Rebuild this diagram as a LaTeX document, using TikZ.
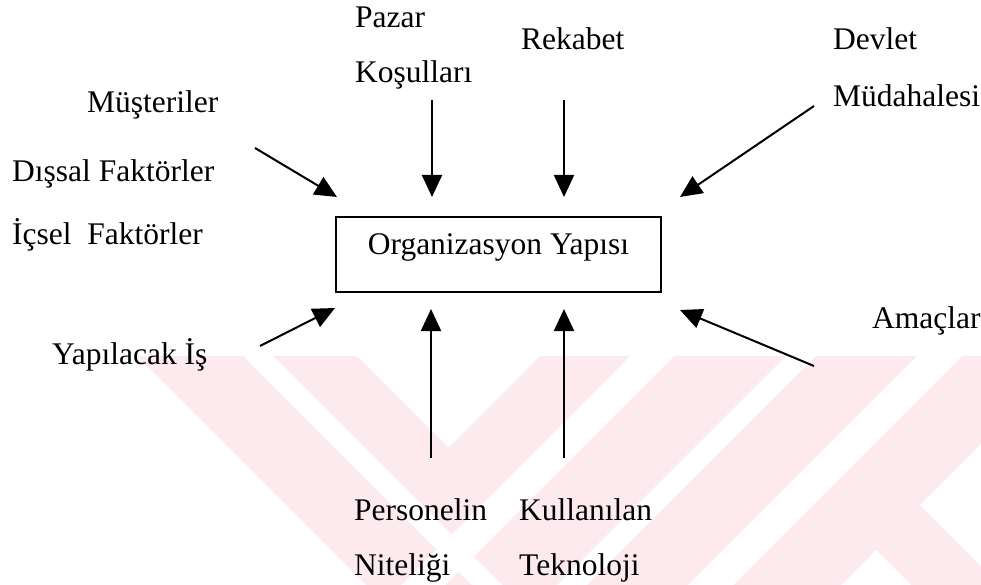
\documentclass[tikz,border=0pt]{standalone}
\usepackage{fontspec}
\setmainfont{Liberation Serif}
\usetikzlibrary{arrows.meta}
\definecolor{wmpink}{RGB}{252,234,238}
\begin{document}
\begin{tikzpicture}[x=1bp,y=-1bp,
  lbl/.style={anchor=base west, inner sep=0pt, font=\fontsize{31.5bp}{38bp}\selectfont},
  orgbox/.style={draw, line width=2bp, minimum width=325bp, minimum height=75bp,
    inner sep=0pt, text height=21bp, text depth=20bp,
    font=\fontsize{31.5bp}{38bp}\selectfont},
  arr/.style={line width=2bp, -{Triangle[length=22bp,width=20bp]}},
  wm/.style={fill=wmpink, draw=none},
  wmgap/.style={fill=white, draw=none}]
\useasboundingbox (0,0) rectangle (981,585);

% faint background emblem
\fill[wm] (137,356) -- (981,356) -- (981,585) -- (366,585) -- cycle;
\fill[wmgap] (243,356) -- (273,356) -- (502,585) -- (472,585) -- cycle;
\fill[wmgap] (357,356) -- (448.5,447.5) -- (540,356) -- cycle;
\fill[wmgap] (630,356) -- (674,356) -- (445,585) -- (401,585) -- cycle;
\fill[wmgap] (786,356) -- (816,356) -- (587,585) -- (557,585) -- cycle;
\fill[wmgap] (917,356) -- (962,356) -- (733,585) -- (688,585) -- cycle;
\fill[wmgap] (920,505) -- (981,444) -- (981,566) -- cycle;
\fill[wmgap] (876,550) -- (911,585) -- (841,585) -- cycle;

% central box
\node[orgbox] (org) at (498.5,254.5) {Organizasyon Yapısı};

% factor labels
\node[lbl] (pazar) at (355,28) {Pazar};
\node[lbl] (kosul) at (355,83) {Koşulları};
\node[lbl] (must) at (87,113) {Müşteriler};
\node[lbl] (dissal) at (12,182) {Dışsal Faktörler};
\node[lbl] (icsel) at (12,245) {İçsel\ \ Faktörler};
\node[lbl] (rek) at (521,50) {Rekabet};
\node[lbl] (devlet) at (833,50) {Devlet};
\node[lbl] (mudah) at (833,107) {Müdahalesi};
\node[lbl] (yap) at (52,364) {Yapılacak İş};
\node[lbl] (amac) at (872,328) {Amaçlar};
\node[lbl] (pers) at (354,520) {Personelin};
\node[lbl] (nit) at (354,575) {Niteliği};
\node[lbl] (kull) at (519,520) {Kullanılan};
\node[lbl] (tek) at (519,575) {Teknoloji};

% arrow end points
\coordinate (aM1) at (255,148);  \coordinate (aM2) at (337,197);
\coordinate (aP1) at (432,100);  \coordinate (aP2) at (432,197);
\coordinate (aR1) at (564,100);  \coordinate (aR2) at (564,197);
\coordinate (aD1) at (814,106);  \coordinate (aD2) at (680,197);
\coordinate (aY1) at (260,346);  \coordinate (aY2) at (335,308);
\coordinate (aN1) at (431,458);  \coordinate (aN2) at (431,309);
\coordinate (aK1) at (564,458);  \coordinate (aK2) at (564,309);
\coordinate (aA1) at (814,366);  \coordinate (aA2) at (680,310);

\draw[arr] (aM1) -- (aM2);
\draw[arr] (aP1) -- (aP2);
\draw[arr] (aR1) -- (aR2);
\draw[arr] (aD1) -- (aD2);
\draw[arr] (aY1) -- (aY2);
\draw[arr] (aN1) -- (aN2);
\draw[arr] (aK1) -- (aK2);
\draw[arr] (aA1) -- (aA2);
\end{tikzpicture}
\end{document}
